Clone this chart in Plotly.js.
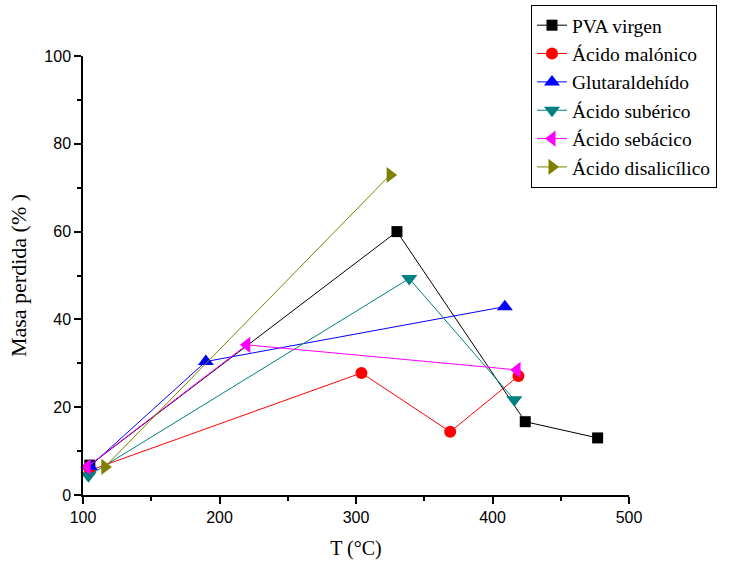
<!DOCTYPE html>
<html><head><meta charset="utf-8">
<script src="https://cdn.plot.ly/plotly-3.0.1.min.js"></script>
<style>body{margin:0;background:#fff}#c{width:736px;height:563px}</style>
</head><body><div id="c"></div><script>
const names = ["PVA virgen","Ácido malónico","Glutaraldehído","Ácido subérico","Ácido sebácico","Ácido disalicílico"];
const pvaX = [105, 330, 424, 477];
const pvaY = [6.8, 60, 16.7, 13];
const malX = [105, 304, 369, 419];
const malY = [5.6, 27.8, 14.4, 27.1];
const gluX = [105, 190, 409];
const gluY = [6.5, 30.4, 42.9];
const subX = [104, 339, 416];
const subY = [4.4, 49.3, 21.7];
const sebX = [103, 220, 418];
const sebY = [6.4, 34.2, 28.5];
const disX = [116, 325];
const disY = [6.4, 72.9];
const colors = ["#000000","#ff0000","#0000ff","#008080","#ff00ff","#808000"];
const symbols = ["square","circle","triangle-up","triangle-down","triangle-left","triangle-right"];
const msizes = [11, 12, 14, 14, 14, 14];
const xs=[pvaX,malX,gluX,subX,sebX,disX], ys=[pvaY,malY,gluY,subY,sebY,disY];
const traces = names.map((n,i)=>({x:xs[i],y:ys[i],name:n,type:'scatter',mode:'lines+markers',
  line:{color:colors[i],width:1},marker:{color:colors[i],symbol:symbols[i],size:msizes[i],line:{width:0}},cliponaxis:false}));
const serif = 'Liberation Serif, Times New Roman, serif';
const sans = 'Liberation Sans, Arial, sans-serif';
const layout = {
  width:736,height:563,margin:{l:83,r:107,t:56,b:68,autoexpand:false},paper_bgcolor:'#fff',plot_bgcolor:'#fff',
  showlegend:true,
  legend:{x:531/736,y:1-5/563,xref:'container',yref:'container',xanchor:'left',yanchor:'top',bordercolor:'#000',borderwidth:1,bgcolor:'#fff',
    font:{family:serif,size:19.5,color:'#000'},tracegroupgap:0},
  xaxis:{range:[100,500],showgrid:false,zeroline:false,showline:true,linecolor:'#000',linewidth:1.5,
    ticks:'outside',ticklen:7,tickwidth:1.5,tickcolor:'#000',dtick:100,
    minor:{ticks:'outside',ticklen:4,dtick:50,tickcolor:'#000',tickwidth:1.5},
    tickfont:{family:sans,size:16,color:'#000'},
    title:{text:'T (°C)',font:{family:serif,size:20,color:'#000'},standoff:16}},
  yaxis:{range:[0,100],showgrid:false,zeroline:false,showline:true,linecolor:'#000',linewidth:1.5,
    ticks:'outside',ticklen:7,tickwidth:1.5,tickcolor:'#000',dtick:20,
    minor:{ticks:'outside',ticklen:4,dtick:10,tickcolor:'#000',tickwidth:1.5},
    tickfont:{family:sans,size:16,color:'#000'},
    title:{text:'Masa perdida (% )',font:{family:serif,size:22,color:'#000'},standoff:12}}
};
Plotly.newPlot('c',traces,layout,{displayModeBar:false});
</script></body></html>
